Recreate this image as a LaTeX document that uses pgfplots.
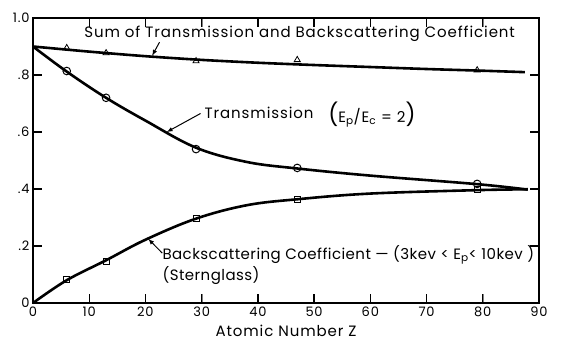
\documentclass[border=0pt]{standalone}
\usepackage{pgfplots}
\pgfplotsset{compat=1.18}
\usepackage{fontspec}
\setmainfont{Poppins}
\newfontfamily\lab[LetterSpace=6]{Poppins}
\newfontfamily\labn[LetterSpace=3]{Poppins}
\begin{document}
\begin{tikzpicture}
\begin{axis}[
  scale only axis, width=506pt, height=285pt,
  xmin=0, xmax=90, ymin=0, ymax=1.0,
  xtick={0,10,...,90}, ytick={0,0.2,0.4,0.6,0.8,1.0},
  yticklabels={0,.2,.4,.6,.8,1.0},
  tick align=inside, major tick length=9pt,
  axis line style={line width=1.8pt},
  /pgf/number format/assume math mode=true,
  tick label style={font=\lab\fontsize{13}{15}\selectfont},
  xlabel={Atomic Number Z}, xlabel style={font=\lab\fontsize{15}{17}\selectfont, yshift=-2pt},
  clip=false,
]
% inward ticks on all four sides
\pgfplotsinvokeforeach{10,20,30,40,50,60,70,80}{
  \draw[line width=1.4pt] (axis cs:#1,0) -- ++(0pt,9pt);
  \draw[line width=1.4pt] (axis cs:#1,1) -- ++(0pt,-9pt);
}
\pgfplotsinvokeforeach{0.2,0.4,0.6,0.8}{
  \draw[line width=1.4pt] (axis cs:0,#1) -- ++(9pt,0pt);
  \draw[line width=1.4pt] (axis cs:90,#1) -- ++(-9pt,0pt);
}
% curves
\addplot[black, line width=2.6pt, smooth, tension=0.5] coordinates {(0,0.90) (10,0.882) (20,0.866) (30,0.853) (40,0.843) (50,0.835) (60,0.828) (70,0.821) (80,0.815) (87.5,0.810)};
\addplot[black, line width=2.6pt, smooth, tension=0.6] coordinates {(0,0.90) (6,0.812) (13,0.72) (20,0.640) (29,0.545) (38,0.495) (47,0.472) (60,0.447) (79,0.417) (88,0.398)};
\addplot[black, line width=2.6pt, smooth, tension=0.6] coordinates {(0,0) (6,0.08) (13,0.15) (20,0.222) (29,0.296) (38,0.343) (47,0.364) (60,0.384) (79,0.396) (88,0.399)};
% marks
\addplot[only marks, mark=triangle, mark size=3.5pt, mark options={fill=white, line width=0.8pt}] coordinates {(6,0.895) (13,0.877) (29,0.849) (47,0.853) (79,0.817)};
\addplot[only marks, mark=o, mark size=3.8pt, mark options={fill=white, line width=1pt}] coordinates {(6,0.814) (13,0.72) (29,0.54) (47,0.474) (79,0.418)};
\addplot[only marks, mark=square, mark size=3pt, mark options={fill=white, line width=0.9pt}] coordinates {(6,0.081) (13,0.147) (29,0.298) (47,0.365) (79,0.397)};
% labels
\node[anchor=west, font=\lab\fontsize{15}{17}\selectfont, inner sep=0pt] at (axis cs:9.1,0.945) {Sum of Transmission and Backscattering Coefficient};
\draw[-latex, line width=1pt] (axis cs:22.5,0.915) -- (axis cs:21.2,0.868);
\node[anchor=west, font=\lab\fontsize{15}{17}\selectfont, inner sep=0pt] at (axis cs:30.5,0.668) {Transmission};
\draw[-latex, line width=1pt] (axis cs:29.8,0.665) -- (axis cs:23.8,0.600);
\node[anchor=west, inner sep=0pt] at (axis cs:52.5,0.66) {\lab\fontsize{22}{24}\selectfont(\fontsize{15}{17}\selectfont E\textsubscript{p}/E\textsubscript{c} = 2\fontsize{22}{24}\selectfont)};
\node[anchor=west, font=\labn\fontsize{15}{17}\selectfont, inner sep=0pt] at (axis cs:23.0,0.168) {Backscattering Coefficient — (3kev < E\textsubscript{p}< 10kev )};
\node[anchor=west, font=\labn\fontsize{15}{17}\selectfont, inner sep=0pt] at (axis cs:23.0,0.098) {(Sternglass)};
\draw[-latex, line width=1pt] (axis cs:23,0.175) -- (axis cs:20.5,0.225);
\end{axis}
\pgfresetboundingbox
\path (current axis.south west) ++(-33pt,-40pt) (current axis.north east) ++(22pt,18pt);
\end{tikzpicture}
\end{document}
